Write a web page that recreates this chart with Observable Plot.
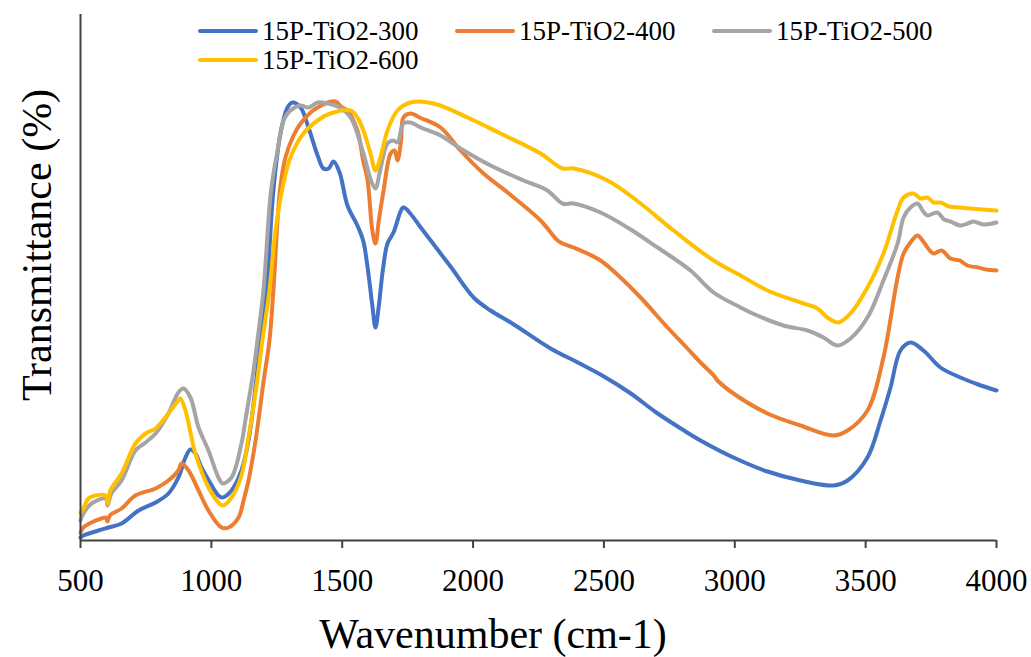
<!DOCTYPE html>
<html><head><meta charset="utf-8">
<script src="https://cdn.jsdelivr.net/npm/d3@7"></script>
<script src="https://cdn.jsdelivr.net/npm/@observablehq/plot@0.6"></script>
<style>
body{margin:0;background:#fff;}
#chart{position:relative;width:1031px;height:657px;}
svg text{font-family:"Liberation Serif","Times New Roman",serif;}
g[aria-label="x-axis tick"] path{stroke:#404040;stroke-width:2;}
</style></head><body><div id="chart"></div>
<script>
const seriesNames = ["15P-TiO2-300","15P-TiO2-400","15P-TiO2-500","15P-TiO2-600"];
const colors = ["#4472C4","#ED7D31","#A5A5A5","#FFC000"];
const xTicks = [500,1000,1500,2000,2500,3000,3500,4000];

const wn300 = [500,511,569,607,657,722,787,836,874,901,920,939,962,997,1027,1043,1077,1115,1142,1165,1188,1211,1237,1264,1291,1310,1341,1371,1406,1428,1448,1467,1490,1520,1558,1580,1597,1615,1627,1640,1655,1673,1696,1734,1760,1800,1876,1914,2002,2067,2150,2296,2400,2500,2600,2700,2800,2869,2995,3125,3251,3377,3431,3507,3557,3595,3633,3671,3721,3786,3862,3930,4000];
const t300  = [0.6,1.0,2.0,2.6,3.4,6.0,7.6,9.4,12.6,16.6,18.2,17.4,14.6,11.4,9.0,8.6,10.0,14.0,20.0,29.0,40.0,50.0,70.0,81.4,86.6,87.6,86.6,82.6,77.0,74.4,74.4,75.8,73.6,67.0,63.0,60.0,54.6,47.0,42.6,47.0,54.0,59.4,61.6,66.6,65.4,62.6,57.4,54.8,48.6,46.0,43.4,38.4,35.6,32.8,29.5,25.6,22.2,20.0,16.6,13.8,12.0,11.0,12.0,16.6,24.0,30.6,38.0,39.6,38.0,34.6,32.6,31.2,30.0];

const wn400 = [500,511,542,580,596,603,612,657,710,787,836,874,886,913,951,989,1039,1066,1104,1123,1142,1169,1200,1222,1237,1262,1283,1314,1341,1379,1406,1444,1474,1500,1520,1558,1580,1597,1615,1627,1640,1658,1685,1700,1711,1725,1734,1761,1800,1876,1952,2040,2132,2258,2323,2342,2384,2487,2563,2640,2743,2819,2869,2920,2934,2995,3125,3251,3377,3431,3507,3568,3622,3645,3671,3698,3720,3736,3759,3790,3824,3860,3889,3930,3960,4000];
const t400  = [1.6,2.6,3.6,4.4,4.6,3.8,5.0,6.4,9.0,10.4,12.0,14.0,15.4,14.0,10.0,6.0,2.6,2.6,4.6,8.0,12.0,20.0,32.0,40.0,50.0,70.0,76.6,81.0,83.4,85.6,86.6,87.6,87.8,86.6,86.0,82.0,76.0,72.0,62.0,59.4,64.0,70.0,77.4,78.0,76.0,80.0,84.6,85.4,84.5,82.6,78.0,73.4,69.6,64.0,60.0,59.4,58.6,56.0,52.6,48.6,42.6,38.4,35.6,33.0,32.0,29.4,25.4,23.0,21.0,22.0,26.0,36.6,52.6,57.4,59.6,61.0,59.8,58.6,57.4,58.0,56.4,56.0,55.0,54.6,54.2,54.0];

const wn500 = [500,511,542,596,603,618,657,710,749,787,836,874,893,920,951,989,1027,1043,1077,1115,1130,1161,1176,1199,1228,1253,1276,1302,1341,1371,1406,1444,1490,1532,1581,1610,1627,1645,1673,1696,1711,1734,1761,1800,1876,1952,2067,2193,2284,2342,2384,2487,2590,2705,2831,2919,3022,3060,3186,3278,3339,3392,3442,3507,3568,3622,3645,3671,3698,3720,3736,3774,3800,3824,3862,3890,3912,3950,4000];
const t500  = [4.0,5.4,7.4,8.4,7.0,9.4,12.0,18.0,19.6,21.4,25.4,29.6,30.4,28.6,22.6,18.0,12.6,11.4,12.6,19.4,24.0,34.0,40.0,50.0,70.0,78.0,84.0,86.0,87.0,86.6,87.6,87.4,86.6,84.6,77.4,72.0,70.4,74.0,79.4,80.0,79.6,83.4,83.6,82.6,81.0,78.4,75.0,72.0,70.0,67.4,67.4,65.6,62.6,58.6,54.0,49.6,46.6,45.6,43.0,42.0,40.6,39.0,40.4,44.6,52.0,59.4,64.6,66.6,67.4,65.8,65.0,65.6,64.2,63.8,63.0,63.4,63.8,63.2,63.6];

const wn600 = [500,511,530,557,596,603,614,657,710,749,787,836,874,882,901,939,989,1027,1043,1077,1115,1140,1170,1195,1222,1245,1270,1302,1352,1406,1455,1532,1558,1581,1608,1627,1646,1673,1711,1761,1849,1979,2105,2258,2342,2384,2514,2640,2766,2919,3022,3125,3251,3316,3354,3396,3442,3507,3568,3622,3645,3683,3710,3736,3760,3786,3820,3862,3900,3950,4000];
const t600  = [5.6,6.4,8.4,9.0,9.0,7.4,10.0,13.4,19.4,21.4,22.4,25.4,28.0,28.4,26.0,17.4,10.6,7.6,7.0,8.6,13.0,20.0,30.0,40.0,50.0,62.0,70.0,76.6,81.4,84.0,85.4,86.0,84.6,82.0,77.4,74.0,76.6,82.0,86.0,87.6,87.4,84.6,81.4,77.4,74.4,74.4,72.0,67.4,62.0,56.0,53.0,50.0,47.6,46.4,44.6,43.6,45.4,50.6,57.4,66.0,68.6,69.4,68.4,68.6,67.6,67.6,66.8,66.6,66.4,66.2,66.0];

const rows = [];
[[wn300,t300],[wn400,t400],[wn500,t500],[wn600,t600]].forEach(([w,t],i) => {
  w.forEach((v,j) => rows.push({series: seriesNames[i], wn: v, t: t[j]}));
});

const serif = '"Liberation Serif","Times New Roman",serif';
const svg = Plot.plot({
  width: 1031, height: 657,
  marginLeft: 80, marginRight: 35, marginTop: 14, marginBottom: 117,
  style: {fontFamily: serif, fontSize: "31px", color: "#000", background: "#fff", overflow: "visible"},
  x: {domain: [500, 4000], ticks: xTicks, tickFormat: d => String(d), tickSize: 8, tickPadding: 20, label: null},
  y: {domain: [0, 105.2], axis: null},
  color: {domain: seriesNames, range: colors},
  marks: [
    Plot.line(rows, {x: "wn", y: "t", z: "series", stroke: "series", strokeWidth: 4, curve: "catmull-rom", strokeLinejoin: "round", strokeLinecap: "round"}),
    Plot.ruleY([0], {stroke: "#404040", strokeWidth: 2}),
    Plot.ruleX([500], {stroke: "#404040", strokeWidth: 2})
  ]
});

const s = d3.select(svg);
s.append("text").attr("x", 493).attr("y", 648).attr("text-anchor", "middle")
  .attr("font-family", serif).attr("font-size", 42).attr("fill", "#000").text("Wavenumber (cm-1)");
s.append("text").attr("transform", "translate(51,245) rotate(-90)").attr("text-anchor", "middle")
  .attr("font-family", serif).attr("font-size", 42).attr("fill", "#000").text("Transmittance (%)");

const legendPos = [[200,31],[457,31],[714,31],[200,60]];
const lg = s.append("g");
seriesNames.forEach((n,i) => {
  const [lx, ly] = legendPos[i];
  lg.append("line").attr("x1", lx).attr("x2", lx + 56).attr("y1", ly).attr("y2", ly)
    .attr("stroke", colors[i]).attr("stroke-width", 4).attr("stroke-linecap", "round");
  lg.append("text").attr("x", lx + 62).attr("y", ly).attr("dy", "0.35em")
    .attr("text-anchor", "start").attr("font-family", serif).attr("font-weight", "normal")
    .attr("font-size", 27).attr("fill", "#000").text(n);
});

document.getElementById("chart").appendChild(svg);
</script></body></html>
